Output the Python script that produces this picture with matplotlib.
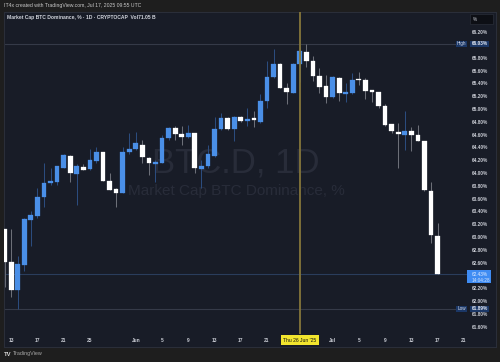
import matplotlib
matplotlib.use('Agg')
import matplotlib.pyplot as plt
from matplotlib.patches import Rectangle

# ---- data (BTC.D daily, 12 May 2025 .. 17 Jul 2025) ----
opens = [63.14, 62.61, 62.18, 62.57, 63.27, 63.34, 63.63, 63.85, 63.87, 64.09,
         64.28, 63.99, 64.10, 64.07, 64.20, 64.33, 63.89, 63.75, 63.70, 64.33,
         64.38, 64.45, 64.24, 64.15, 64.16, 64.55, 64.71, 64.61, 64.57, 64.63,
         64.07, 64.11, 64.28, 64.70, 64.87, 64.69, 64.89, 64.82, 64.85, 64.81,
         65.14, 65.50, 65.71, 65.33, 65.26, 65.71, 65.90, 65.75, 65.52, 65.36,
         65.20, 65.49, 65.24, 65.26, 65.47, 65.46, 65.30, 65.27, 65.06, 64.77,
         64.65, 64.60, 64.66, 64.60, 64.50, 63.73, 63.03]
highs = [63.14, 63.14, 62.71, 63.30, 63.42, 63.78, 64.16, 64.08, 64.12, 64.30,
         64.29, 64.15, 64.15, 64.38, 64.41, 64.34, 64.00, 63.77, 64.41, 64.64,
         64.65, 64.52, 64.25, 64.21, 64.60, 64.72, 64.74, 64.74, 64.76, 64.64,
         64.21, 64.45, 64.88, 64.94, 64.89, 64.90, 64.90, 65.02, 64.97, 65.24,
         65.75, 65.94, 65.72, 65.41, 65.72, 65.98, 66.03, 65.83, 65.65, 65.54,
         65.52, 65.51, 65.41, 65.57, 65.59, 65.49, 65.31, 65.28, 65.08, 64.77,
         64.79, 64.97, 64.73, 64.76, 64.50, 63.87, 63.23]
lows = [62.23, 62.075, 61.89, 62.48, 62.87, 63.30, 63.48, 63.82, 63.82, 64.08,
        63.86, 63.50, 64.05, 64.05, 64.16, 63.89, 63.74, 63.47, 63.70, 64.31,
        64.37, 64.16, 63.97, 63.87, 64.16, 64.53, 64.52, 64.44, 64.56, 64.00,
        63.77, 64.08, 64.26, 64.68, 64.68, 64.51, 64.81, 64.74, 64.73, 64.79,
        65.02, 65.49, 65.33, 65.08, 65.25, 65.43, 65.67, 65.44, 65.26, 65.10,
        65.18, 65.13, 65.11, 65.24, 65.38, 65.17, 65.12, 65.03, 64.74, 64.63,
        64.08, 64.37, 64.35, 64.50, 63.73, 62.92, 62.43]
closes = [62.62, 62.18, 62.58, 63.29, 63.35, 63.63, 63.85, 63.89, 64.11, 64.29,
          64.00, 64.12, 64.06, 64.21, 64.33, 63.89, 63.74, 63.70, 64.33, 64.38,
          64.48, 64.25, 64.16, 64.18, 64.56, 64.71, 64.61, 64.57, 64.64, 64.08,
          64.12, 64.31, 64.70, 64.87, 64.69, 64.89, 64.82, 64.85, 64.84, 65.13,
          65.50, 65.71, 65.34, 65.28, 65.71, 65.91, 65.75, 65.52, 65.35, 65.20,
          65.50, 65.26, 65.28, 65.46, 65.46, 65.29, 65.28, 65.06, 64.75, 64.67,
          64.61, 64.67, 64.60, 64.51, 63.74, 63.04, 62.43]

date_tick_idx = [1, 5, 9, 13, 20, 24, 28, 32, 36, 40, 50, 54, 58, 62, 66, 70]
date_tick_lbl = ['13', '17', '21', '25', 'Jun', '5', '9', '13', '17', '21',
                 'Jul', '5', '9', '13', '17', '21']
price_ticks = [66.20, 65.80, 65.60, 65.40, 65.20, 65.00, 64.80, 64.60, 64.40,
               64.20, 64.00, 63.80, 63.60, 63.40, 63.20, 63.00, 62.80, 62.60,
               62.20, 62.00, 61.80, 61.60]
high_val = 66.03
low_val = 61.89
last_val = 62.43
cross_idx = 45
cross_lbl = "Thu 26 Jun '25"

# ---- styling ----
OUTER = '#1e1e1e'
PANEL = '#181c27'
BORDER = '#2a2e39'
UP = '#4a8fe7'
DOWN = '#ffffff'
UP_WICK = '#2b4c7e'
DOWN_WICK = '#6c6f78'
TXT = '#c9ccd4'
FONT = ['Liberation Sans', 'DejaVu Sans']
plt.rcParams['font.family'] = FONT

fig = plt.figure(figsize=(5, 3.62), dpi=100, facecolor=OUTER)
W, H = 500.0, 362.0
ax = fig.add_axes([4 / W, (H - 346.5) / H, 491.5 / W, 334.5 / H])
ax.set_facecolor(PANEL)
for s in ax.spines.values():
    s.set_color(BORDER)
    s.set_linewidth(0.8)
ax.set_xticks([])
ax.set_yticks([])
ax.set_xlim(-0.09, 74.83)
ax.set_ylim(61.297, 66.523)

n = len(opens)
xs = list(range(n))
for i in xs:
    o, h, l, c = opens[i], highs[i], lows[i], closes[i]
    up = c > o
    wc = UP_WICK if up else DOWN_WICK
    bc = UP if up else DOWN
    ax.vlines(i, l, h, color=wc, lw=0.75, zorder=2)
    bot = min(o, c)
    ht = max(abs(c - o), 0.02)
    ax.bar(i, ht, bottom=bot, width=0.72, color=bc, edgecolor=bc,
           linewidth=0.2, zorder=3)

ytr = ax.get_yaxis_transform()
xtr = ax.get_xaxis_transform()

# horizontal reference lines
ax.hlines(high_val, 0, 0.9197, transform=ytr, color='#353a48', lw=0.8, zorder=1)
ax.hlines(low_val, 0, 0.9197, transform=ytr, color='#353a48', lw=0.8, zorder=1)
ax.hlines(last_val, 0, 0.942, transform=ytr, color='#2a3d5c', lw=0.8, zorder=1)

# crosshair
ax.vlines(cross_idx, 0.0374, 1.0, transform=xtr, color='#85763a', lw=1.3, zorder=4)
ax.text(cross_idx, 0.0194, cross_lbl, transform=xtr, ha='center', va='center',
        fontsize=3.6, color='#111111', zorder=6,
        bbox=dict(boxstyle='square,pad=0.45', fc='#f2e52e', ec='none'))

# price axis labels
for v in price_ticks:
    ax.text(0.985, v, f'{v:.2f}%', transform=ytr, ha='right', va='center',
            fontsize=3.4, color=TXT, fontweight='bold')

# date labels
for i, lb in zip(date_tick_idx, date_tick_lbl):
    ax.text(i, 0.0194, lb, transform=xtr, ha='center', va='center',
            fontsize=3.5, color=TXT, fontweight='bold')

# High / Low boxes
def tag(v, word):
    ax.add_patch(Rectangle((0.9197, v - 0.047), 0.023, 0.094, transform=ytr,
                           fc='#1b3766', ec='none', zorder=5, clip_on=False))
    ax.text(0.9312, v, word, transform=ytr, ha='center', va='center',
            fontsize=3.3, color='#d6dcea', zorder=6)
    ax.add_patch(Rectangle((0.9481, v - 0.047), 0.0381, 0.094, transform=ytr,
                           fc='#1b3766', ec='none', zorder=5, clip_on=False))
    ax.text(0.985, v, f'{v:.2f}%', transform=ytr, ha='right', va='center',
            fontsize=3.4, color='#e6ebf5', fontweight='bold', zorder=6)

tag(high_val, 'High')
tag(low_val, 'Low')

# current price box
ax.add_patch(Rectangle((0.9422, last_val - 0.137), 0.0489, 0.198, transform=ytr,
                       fc='#3f8cf3', ec='none', zorder=5, clip_on=False))
ax.text(0.951, last_val - 0.005, f'{last_val:.2f}%', transform=ytr, ha='left',
        va='center', fontsize=3.4, color='#e4eeff', zorder=6)
ax.text(0.951, last_val - 0.098, '14:04:28', transform=ytr, ha='left',
        va='center', fontsize=3.4, color='#d2e2fb', zorder=6)

# "%" box
ax.add_patch(Rectangle((0.9481, 0.964), 0.0462, 0.030, transform=ax.transAxes,
                       fc='#0d0f15', ec='#2a2e39', lw=0.5, zorder=5))
ax.text(0.958, 0.979, '%', transform=ax.transAxes, ha='center', va='center',
        fontsize=3.4, color=TXT, zorder=6)

# watermark
ax.text(0.472, 0.549, 'BTC.D, 1D', transform=ax.transAxes, ha='center',
        va='center', fontsize=25, color='#282c39', zorder=0.5)
ax.text(0.472, 0.465, 'Market Cap BTC Dominance, %', transform=ax.transAxes,
        ha='center', va='center', fontsize=11, color='#282c39', zorder=0.5)

# header texts
fig.text(4 / W, 1 - 6 / H, 'IT4x created with TradingView.com, Jul 17, 2025 09:55 UTC',
         ha='left', va='center', fontsize=3.7, color='#c8c8c8')
fig.text(7.3 / W, 1 - 18 / H,
         'Market Cap BTC Dominance, % \u00b7 1D \u00b7 CRYPTOCAP  Vol71.05 B',
         ha='left', va='center', fontsize=3.6, color='#d1d4dc', fontweight='bold')
fig.text(4 / W, 1 - 354 / H, 'TV', ha='left', va='center', fontsize=4.2,
         color='#d8d8d8', fontweight='bold')
fig.text(13 / W, 1 - 354 / H, 'TradingView', ha='left', va='center',
         fontsize=3.9, color='#a8a8a8')

fig.savefig('out.png', dpi=100, facecolor=OUTER)
